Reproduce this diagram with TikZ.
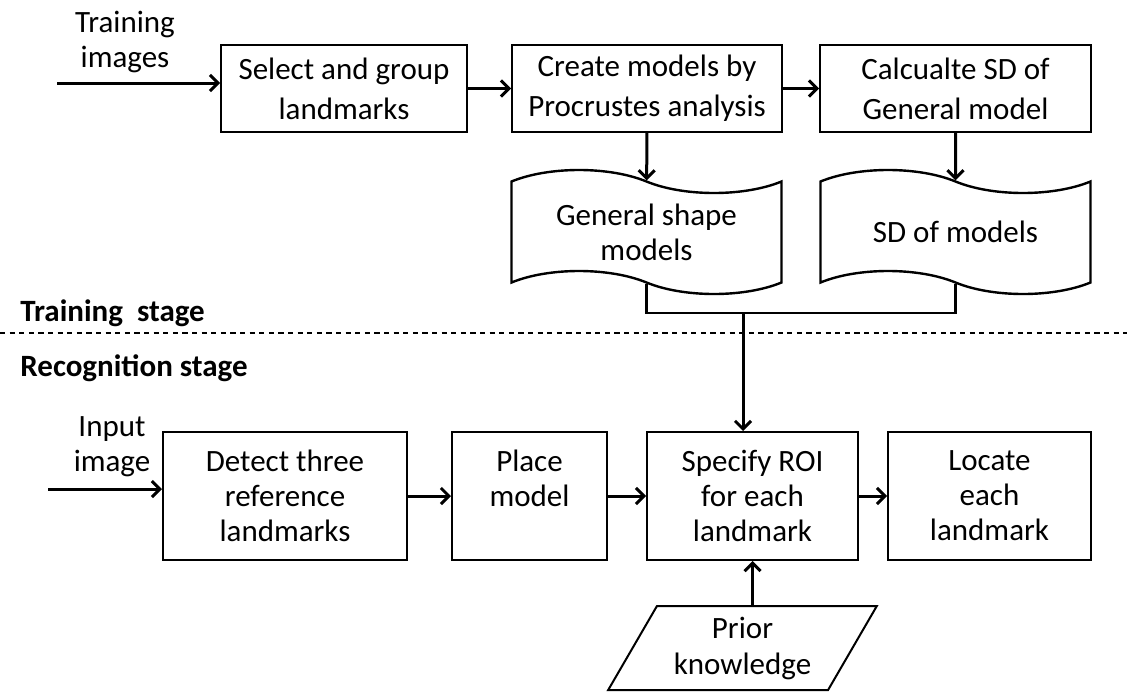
\documentclass[tikz,border=0pt]{standalone}
\usepackage{fontspec}
\setmainfont{Carlito}
\usetikzlibrary{shapes, shapes.symbols, shapes.geometric, arrows.meta, positioning}

\begin{document}
\begin{tikzpicture}[
        x=0.5pt, y=-0.5pt,
        every node/.style={font=\fontsize{15.5}{17.5}\selectfont, align=center},
        box/.style={rectangle, draw, line width=1pt, inner sep=0pt},
        store/.style={tape, draw, line width=1.2pt, tape bend top=out and in, tape bend bottom=out and in, tape bend height=11.5pt, minimum width=135pt, minimum height=62pt, inner sep=0pt},
        flow/.style={line width=1.5pt, -{Straight Barb[length=4pt,width=8pt]}},
        stagelbl/.style={font=\fontsize{15.5}{18}\selectfont\bfseries, anchor=west, inner sep=0pt},
    ]
    \useasboundingbox (0,0) rectangle (1127,691);

    \node (timg) at (125,42) {Training\\images};
    \node[box, minimum width=123pt, minimum height=43.5pt, font=\fontsize{15.5}{20}\selectfont] (select) at (344,88.5) {Select and group\\landmarks};
    \node[box, minimum width=135pt, minimum height=43.5pt, font=\fontsize{15.5}{20}\selectfont] (create) at (647,88.5) {Create models by\\Procrustes analysis};
    \node[box, minimum width=135.5pt, minimum height=43.5pt, font=\fontsize{15.5}{20}\selectfont] (calc) at (955.5,88.5) {Calcualte SD of\\General model};

    \node[store] (gsm) at (646.5,232) {General shape\\models};
    \node[store] (sdm) at (955.5,232) {SD of models};

    \coordinate (tin) at (57,83);
    \draw[flow] (tin) -- (tin -| select.west);
    \draw[flow] (select) -- (create);
    \draw[flow] (create) -- (calc);
    \draw[flow] (create) -- (gsm);
    \draw[flow] (calc) -- (sdm);

    \coordinate (join) at (743,313);
    \draw[line width=1.2pt] (gsm.south) |- (join) -| (sdm.south);

    \node[stagelbl] (trainst) at (20,313) {Training\ \ stage};
    \draw[dashed, line width=0.7pt, dash pattern=on 2.6pt off 2.2pt] (0,333) -- (1127,333);
    \node[stagelbl] (recogst) at (20,368) {Recognition stage};

    \node (iimg) at (112,447) {Input\\image};
    \node[box, minimum width=122pt, minimum height=64pt] (detect) at (285,496) {Detect three\\reference\\landmarks};
    \node[box, minimum width=77.5pt, minimum height=64pt] (place) at (529.5,496) {Place\\model\\\mbox{}};
    \node[box, minimum width=105.5pt, minimum height=64pt] (spec) at (752.5,496) {Specify ROI\\for each\\landmark};
    \node[box, minimum width=101.5pt, minimum height=64pt] (locate) at (989.5,496) {Locate\\each\\landmark};

    \node[trapezium, draw, line width=1pt, trapezium left angle=58, trapezium right angle=122, trapezium stretches=true, minimum width=134.5pt, minimum height=42pt, inner sep=0pt, font=\fontsize{15.5}{18}\selectfont] (prior) at (742.5,648) {Prior\\knowledge};

    \coordinate (iin) at (48,489);
    \draw[flow] (iin) -- (iin -| detect.west);
    \draw[flow] (detect) -- (place);
    \draw[flow] (place) -- (spec);
    \draw[flow] (spec) -- (locate);
    \draw[flow] (join) -- (join |- spec.north);
    \draw[flow] (prior.north -| spec.south) -- (spec.south);

\end{tikzpicture}
\end{document}
